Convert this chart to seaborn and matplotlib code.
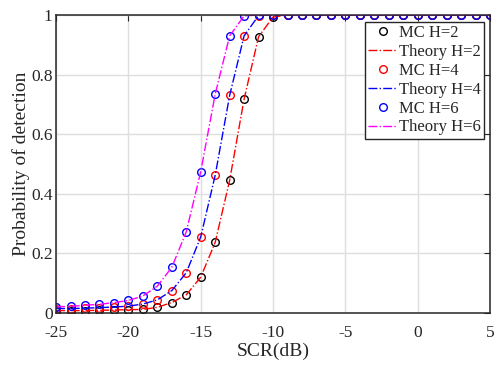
import numpy as np
import pandas as pd
import matplotlib
matplotlib.use("Agg")
import matplotlib.pyplot as plt
import seaborn as sns

scr = list(range(-25, 6))

mc_h2 = [0.008, 0.008, 0.008, 0.009, 0.010, 0.011, 0.012, 0.019, 0.035, 0.061,
         0.120, 0.237, 0.445, 0.718, 0.927, 0.993] + [1.0] * 15
mc_h4 = [0.015, 0.015, 0.016, 0.018, 0.020, 0.023, 0.030, 0.044, 0.075, 0.135,
         0.255, 0.462, 0.730, 0.930, 0.998] + [1.0] * 16
mc_h6 = [0.021, 0.022, 0.026, 0.029, 0.035, 0.042, 0.057, 0.090, 0.153, 0.272,
         0.474, 0.734, 0.930, 0.997] + [1.0] * 17

th_h2 = list(mc_h2)
th_h4 = list(mc_h4)
th_h6 = list(mc_h6)

sns.set_theme(style="whitegrid")
plt.rcParams['font.family'] = ['Liberation Serif', 'DejaVu Serif']
plt.rcParams['mathtext.fontset'] = 'stix'

fig = plt.figure(figsize=(4.96, 3.65), dpi=100)
ax = fig.add_axes([0.113, 0.1425, 0.875, 0.8165])

series = [
    ("MC H=2", mc_h2, "black", "mc"),
    ("Theory H=2", th_h2, "red", "th"),
    ("MC H=4", mc_h4, "red", "mc"),
    ("Theory H=4", th_h4, "blue", "th"),
    ("MC H=6", mc_h6, "blue", "mc"),
    ("Theory H=6", th_h6, "magenta", "th"),
]

for label, vals, col, kind in series:
    df = pd.DataFrame({"x": scr, "y": vals})
    if kind == "mc":
        sns.lineplot(data=df, x="x", y="y", ax=ax, color=col, linestyle="none",
                     marker="o", markersize=5.5, markerfacecolor="none",
                     markeredgecolor=col, markeredgewidth=1.0, label=label)
    else:
        sns.lineplot(data=df, x="x", y="y", ax=ax, color=col, linestyle="-.",
                     linewidth=1.0, label=label)

ax.set_xlim(-25, 5)
ax.set_ylim(0, 1)
ax.set_xticks(range(-25, 6, 5))
ax.set_yticks([0, 0.2, 0.4, 0.6, 0.8, 1])
ax.set_xticklabels(["-25", "-20", "-15", "-10", "-5", "0", "5"])
ax.set_yticklabels(["0", "0.2", "0.4", "0.6", "0.8", "1"])
ax.set_xlabel("SCR(dB)", fontsize=14, labelpad=1.5)
ax.set_ylabel("Probability of detection", fontsize=14, labelpad=1)
ax.tick_params(axis="both", which="both", direction="in", length=4, width=0.8,
               labelsize=12.5, top=True, right=True, color="#262626",
               labelcolor="#262626")
ax.tick_params(axis="x", pad=8.5)
ax.tick_params(axis="y", pad=2.5)
ax.grid(True, color="#dedede", linewidth=1.0)
for s in ax.spines.values():
    s.set_visible(True)
    s.set_color("#262626")
    s.set_linewidth(1.1)

leg = ax.legend(loc="upper right", bbox_to_anchor=(0.986, 0.9765), fontsize=12,
                frameon=True, fancybox=False, edgecolor="#262626",
                framealpha=1.0, borderpad=0.2, labelspacing=0.17,
                handlelength=1.75, handletextpad=0.1, borderaxespad=0.0)
leg.get_frame().set_linewidth(1.0)

fig.savefig("out.png", dpi=100)
